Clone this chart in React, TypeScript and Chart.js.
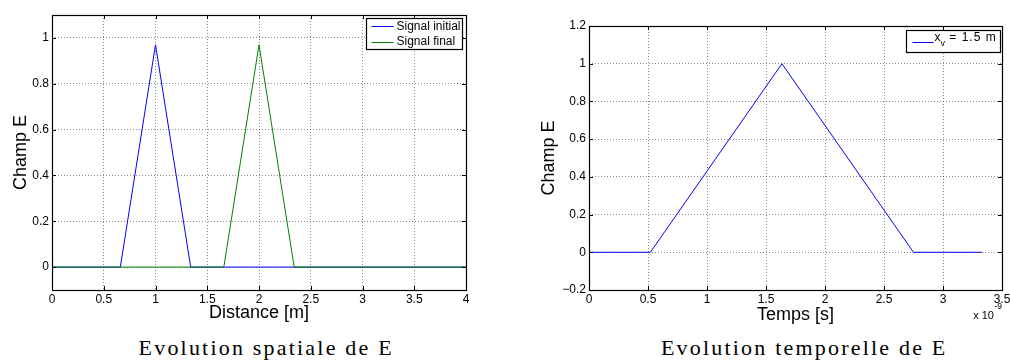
import React, { useEffect, useRef } from 'react';
import { Chart, registerables } from 'chart.js';

Chart.register(...registerables);

// ---------- data ----------
const distanceInitial = [0, 0.66, 1.0, 1.34, 4];
const fieldInitial = [0, 0, 0.97, 0, 0];
const distanceFinal = [0, 1.66, 2.0, 2.34, 4];
const fieldFinal = [0, 0, 0.97, 0, 0];
const timeScaled = [0, 0.52, 1.635, 2.75, 3.33]; // x 10^-9 s
const fieldAtXv = [0, 0, 1, 0, 0];

const spatialXTicks = [0, 0.5, 1, 1.5, 2, 2.5, 3, 3.5, 4];
const spatialYTicks = [0, 0.2, 0.4, 0.6, 0.8, 1];
const temporalXTicks = [0, 0.5, 1, 1.5, 2, 2.5, 3, 3.5];
const temporalYTicks = [-0.2, 0, 0.2, 0.4, 0.6, 0.8, 1, 1.2];

const spatialLabels = ['Signal initial', 'Signal final'];
const temporalLabels = ['x_v = 1.5 m'];
const captions = ['Evolution spatiale de E', 'Evolution temporelle de E'];

// ---------- style ----------
const SANS = '"Liberation Sans", Arial, Helvetica, sans-serif';
const SERIF = '"Liberation Serif", "Times New Roman", serif';
const GRID = 'rgba(0,0,0,0.45)';

const toPoints = (xs: number[], ys: number[]) => xs.map((x, i) => ({ x, y: ys[i] }));
const fmt = (v: any) => (Number(v) < 0 ? '\u2212' + Math.abs(Number(v)) : String(v));

const matlabAxes = {
  id: 'matlabAxes',
  afterDatasetsDraw(chart: any, _args: any, opts: any) {
    const { ctx, chartArea } = chart;
    const { left, top, right, bottom } = chartArea;
    const xs = chart.scales.x;
    const ys = chart.scales.y;
    ctx.save();
    ctx.strokeStyle = '#000';
    ctx.lineWidth = 1;
    const L = 4;
    ctx.beginPath();
    xs.ticks.forEach((t: any) => {
      const p = Math.round(xs.getPixelForValue(t.value)) + 0.5;
      ctx.moveTo(p, bottom);
      ctx.lineTo(p, bottom - L);
      ctx.moveTo(p, top);
      ctx.lineTo(p, top + L);
    });
    ys.ticks.forEach((t: any) => {
      const p = Math.round(ys.getPixelForValue(t.value)) + 0.5;
      ctx.moveTo(left, p);
      ctx.lineTo(left + L, p);
      ctx.moveTo(right, p);
      ctx.lineTo(right - L, p);
    });
    ctx.stroke();
    ctx.lineWidth = 1.2;
    ctx.strokeRect(Math.round(left) + 0.5, Math.round(top) + 0.5, Math.round(right - left), Math.round(bottom - top));

    // legend
    const lg = opts.legend;
    if (lg) {
      const rows = chart.data.datasets.map((ds: any) => {
        const m = String(ds.label).match(/^(.*?)_(\w)(.*)$/);
        return m
          ? { pre: m[1], sub: m[2], post: m[3], color: ds.borderColor }
          : { pre: String(ds.label), sub: '', post: '', color: ds.borderColor };
      });
      const measure = (r: any) => {
        ctx.font = `12px ${SANS}`;
        let w = ctx.measureText(r.pre).width;
        if (r.sub) {
          ctx.font = `9px ${SANS}`;
          w += ctx.measureText(r.sub).width;
          ctx.font = `12px ${SANS}`;
          (ctx as any).letterSpacing = lg.postSpacing || '0px';
          w += ctx.measureText(r.post).width;
          (ctx as any).letterSpacing = '0px';
        }
        return w;
      };
      const textW = Math.max(...rows.map(measure));
      const rowH = (r: any) => (r.sub ? 22 : 15.5);
      const boxW = lg.padLeft + lg.lineLen + lg.gap + textW + lg.padRight;
      const boxH = rows.reduce((a: number, r: any) => a + rowH(r), 0);
      const x0 = Math.round(right - lg.offRight - boxW) + 0.5;
      const y0 = Math.round(top + lg.offTop) + 0.5;
      ctx.fillStyle = '#fff';
      ctx.fillRect(x0, y0, boxW, boxH);
      ctx.lineWidth = 1.2;
      ctx.strokeStyle = '#000';
      ctx.strokeRect(x0, y0, Math.round(boxW), Math.round(boxH));
      let acc = 0;
      rows.forEach((r: any) => {
        const h = rowH(r);
        const cy = y0 + acc + h / 2;
        ctx.strokeStyle = r.color;
        ctx.lineWidth = 1;
        ctx.beginPath();
        ctx.moveTo(x0 + lg.padLeft, Math.round(cy) + 0.5);
        ctx.lineTo(x0 + lg.padLeft + lg.lineLen, Math.round(cy) + 0.5);
        ctx.stroke();
        ctx.fillStyle = '#000';
        ctx.textAlign = 'left';
        ctx.textBaseline = 'middle';
        let tx = x0 + lg.padLeft + lg.lineLen + lg.gap;
        ctx.font = `12px ${SANS}`;
        if (r.sub) {
          ctx.fillText(r.pre, tx, cy - 4);
          tx += ctx.measureText(r.pre).width;
          ctx.font = `9px ${SANS}`;
          ctx.fillText(r.sub, tx, cy + 2.5);
          tx += ctx.measureText(r.sub).width;
          ctx.font = `12px ${SANS}`;
          (ctx as any).letterSpacing = lg.postSpacing || '0px';
          ctx.fillText(r.post, tx, cy - 4);
          (ctx as any).letterSpacing = '0px';
        } else {
          ctx.fillText(r.pre, tx, cy);
        }
        acc += h;
      });
    }

    // axis exponent (x 10^-9)
    if (opts.exponent) {
      ctx.fillStyle = '#000';
      ctx.textAlign = 'right';
      ctx.textBaseline = 'alphabetic';
      ctx.font = `8.5px ${SANS}`;
      const ew = ctx.measureText(opts.exponent).width;
      ctx.fillText(opts.exponent, right, bottom + 19);
      ctx.font = `11px ${SANS}`;
      ctx.fillText('x 10', right - ew - 0.5, bottom + 28.5);
    }
    ctx.restore();
  },
};

function axisCfg(
  ticks: number[],
  min: number,
  max: number,
  isX: boolean,
  title: string,
  size: number,
  titlePad: number
) {
  return {
    type: 'linear',
    min,
    max,
    afterBuildTicks: (s: any) => {
      s.ticks = ticks.map((v) => ({ value: v }));
    },
    afterFit: (s: any) => {
      if (isX) {
        s.height = size;
        s.paddingLeft = 0;
        s.paddingRight = 0;
      } else {
        s.width = size;
        s.paddingTop = 0;
        s.paddingBottom = 0;
      }
    },
    grid: { color: GRID, lineWidth: 1, drawTicks: false },
    border: { display: false, dash: [1, 2] },
    ticks: {
      padding: isX ? 2 : 3,
      color: '#000',
      font: { family: SANS, size: 12 },
      maxRotation: 0,
      minRotation: 0,
      autoSkip: false,
      callback: fmt,
    },
    title: {
      display: true,
      text: title,
      color: '#000',
      font: { family: SANS, size: 18 },
      padding: isX ? { top: 0, bottom: titlePad } : { top: titlePad, bottom: 0 },
    },
  };
}

function ChartBox({ left, config }: { left: number; config: () => any }) {
  const ref = useRef<HTMLCanvasElement | null>(null);
  useEffect(() => {
    if (!ref.current) return;
    const chart = new Chart(ref.current, config());
    return () => chart.destroy();
  }, []);
  return (
    <canvas
      ref={ref}
      width={505}
      height={330}
      style={{ position: 'absolute', left, top: 0, width: 505, height: 330 }}
    />
  );
}

const spatialConfig = () => ({
  type: 'line',
  data: {
    datasets: [
      {
        label: spatialLabels[0],
        data: toPoints(distanceInitial, fieldInitial),
        borderColor: '#0000ff',
        borderWidth: 1,
        pointRadius: 0,
        order: 1,
      },
      {
        label: spatialLabels[1],
        data: toPoints(distanceFinal, fieldFinal),
        borderColor: '#008000',
        borderWidth: 1,
        pointRadius: 0,
        order: 0,
      },
    ],
  },
  options: {
    responsive: false,
    animation: false,
    devicePixelRatio: 1,
    layout: { padding: { left: 0, top: 15, right: 39, bottom: 0 } },
    scales: {
      x: axisCfg(spatialXTicks, 0, 4, true, 'Distance [m]', 40, 6),
      y: axisCfg(spatialYTicks, -0.1, 1.1, false, 'Champ E', 52, 10),
    },
    plugins: {
      legend: { display: false },
      tooltip: { enabled: false },
      matlabAxes: {
        legend: { padLeft: 5, lineLen: 22, gap: 3, padRight: 2, offRight: 4, offTop: 3 },
      },
    },
  },
  plugins: [matlabAxes],
});

const temporalConfig = () => ({
  type: 'line',
  data: {
    datasets: [
      {
        label: temporalLabels[0],
        data: toPoints(timeScaled, fieldAtXv),
        borderColor: '#0000ff',
        borderWidth: 1,
        pointRadius: 0,
      },
    ],
  },
  options: {
    responsive: false,
    animation: false,
    devicePixelRatio: 1,
    layout: { padding: { left: 0, top: 26, right: 8, bottom: 0 } },
    scales: {
      x: axisCfg(temporalXTicks, 0, 3.5, true, 'Temps [s]', 40, 4.5),
      y: axisCfg(temporalYTicks, -0.2, 1.2, false, 'Champ E', 84, 33),
    },
    plugins: {
      legend: { display: false },
      tooltip: { enabled: false },
      matlabAxes: {
        legend: { padLeft: 6, lineLen: 21, gap: 1, padRight: 4, offRight: 1.5, offTop: 4, postSpacing: '1px' },
        exponent: '-9',
      },
    },
  },
  plugins: [matlabAxes],
});

const captionStyle = (center: number): React.CSSProperties => ({
  position: 'absolute',
  left: center - 200,
  width: 400,
  top: 337,
  textAlign: 'center',
  fontFamily: SERIF,
  fontSize: 22,
  lineHeight: '22px',
  letterSpacing: '2.2px',
  paddingLeft: 2.2,
  color: '#000',
  whiteSpace: 'nowrap',
});

export default function App() {
  return (
    <div
      style={{
        position: 'absolute',
        left: 0,
        top: 0,
        width: 1010,
        height: 361,
        background: '#fff',
        overflow: 'hidden',
      }}
    >
      <ChartBox left={0} config={spatialConfig} />
      <ChartBox left={505} config={temporalConfig} />
      <div style={captionStyle(264)}>{captions[0]}</div>
      <div style={captionStyle(802)}>{captions[1]}</div>
    </div>
  );
}
